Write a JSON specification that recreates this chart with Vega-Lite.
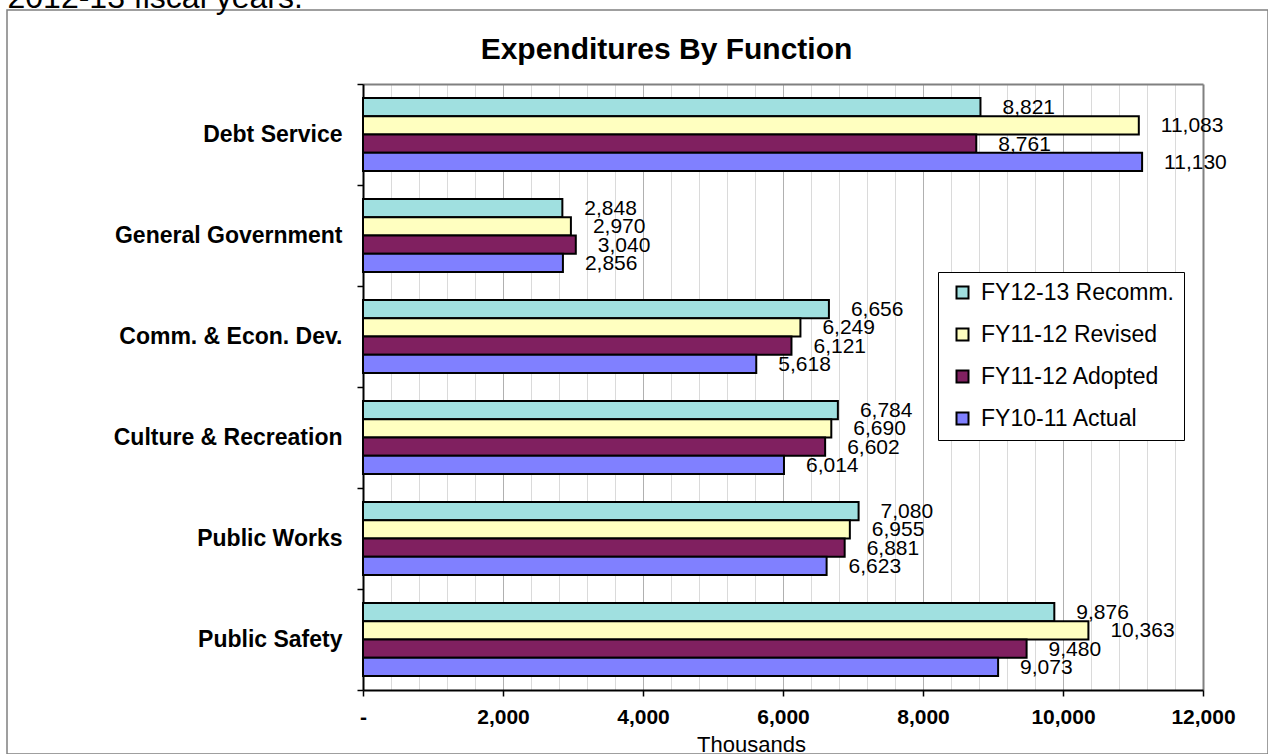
{
  "$schema": "https://vega.github.io/schema/vega-lite/v6.json",
  "autosize": "none",
  "padding": {"left": 7, "top": 10, "right": 0, "bottom": 0},
  "width": 1261,
  "height": 744,
  "background": "white",
  "config": {
    "font": "Liberation Sans",
    "view": {"stroke": "#808080", "strokeWidth": 1.5}
  },
  "data": {
    "values": [
      {"category": "Debt Service", "series": "FY12-13 Recomm.", "value": 8821},
      {"category": "Debt Service", "series": "FY11-12 Revised", "value": 11083},
      {"category": "Debt Service", "series": "FY11-12 Adopted", "value": 8761},
      {"category": "Debt Service", "series": "FY10-11 Actual", "value": 11130},
      {"category": "General Government", "series": "FY12-13 Recomm.", "value": 2848},
      {"category": "General Government", "series": "FY11-12 Revised", "value": 2970},
      {"category": "General Government", "series": "FY11-12 Adopted", "value": 3040},
      {"category": "General Government", "series": "FY10-11 Actual", "value": 2856},
      {"category": "Comm. & Econ. Dev.", "series": "FY12-13 Recomm.", "value": 6656},
      {"category": "Comm. & Econ. Dev.", "series": "FY11-12 Revised", "value": 6249},
      {"category": "Comm. & Econ. Dev.", "series": "FY11-12 Adopted", "value": 6121},
      {"category": "Comm. & Econ. Dev.", "series": "FY10-11 Actual", "value": 5618},
      {"category": "Culture & Recreation", "series": "FY12-13 Recomm.", "value": 6784},
      {"category": "Culture & Recreation", "series": "FY11-12 Revised", "value": 6690},
      {"category": "Culture & Recreation", "series": "FY11-12 Adopted", "value": 6602},
      {"category": "Culture & Recreation", "series": "FY10-11 Actual", "value": 6014},
      {"category": "Public Works", "series": "FY12-13 Recomm.", "value": 7080},
      {"category": "Public Works", "series": "FY11-12 Revised", "value": 6955},
      {"category": "Public Works", "series": "FY11-12 Adopted", "value": 6881},
      {"category": "Public Works", "series": "FY10-11 Actual", "value": 6623},
      {"category": "Public Safety", "series": "FY12-13 Recomm.", "value": 9876},
      {"category": "Public Safety", "series": "FY11-12 Revised", "value": 10363},
      {"category": "Public Safety", "series": "FY11-12 Adopted", "value": 9480},
      {"category": "Public Safety", "series": "FY10-11 Actual", "value": 9073}
    ]
  },
  "encoding": {
    "y": {
      "field": "category",
      "type": "nominal",
      "sort": ["Debt Service", "General Government", "Comm. & Econ. Dev.", "Culture & Recreation", "Public Works", "Public Safety"],
      "scale": {"range": [74, 680], "paddingInner": 0, "paddingOuter": 0},
      "axis": {
        "orient": "left",
        "offset": -356,
        "title": "2012-13 fiscal years.",
        "titleAngle": 0,
        "titleAlign": "left",
        "titleBaseline": "alphabetic",
        "titleX": -356,
        "titleY": -3,
        "titleFont": "Liberation Sans",
        "titleFontSize": 32,
        "titleFontWeight": "normal",
        "titleColor": "black",
        "tickBand": "extent",
        "ticks": true,
        "tickSize": 6,
        "tickColor": "black",
        "tickWidth": 1.5,
        "domainColor": "black",
        "domainWidth": 2,
        "grid": false,
        "labelFont": "Liberation Sans",
        "labelFontSize": 23,
        "labelFontWeight": "bold",
        "labelColor": "black",
        "labelPadding": 15,
        "labelLimit": 0
      }
    },
    "yOffset": {
      "field": "series",
      "type": "nominal",
      "sort": ["FY12-13 Recomm.", "FY11-12 Revised", "FY11-12 Adopted", "FY10-11 Actual"],
      "scale": {"paddingInner": 0, "paddingOuter": 0.767}
    }
  },
  "layer": [
    {
      "mark": {"type": "bar", "stroke": "black", "strokeWidth": 2, "opacity": 1},
      "encoding": {
        "x": {
          "field": "value",
          "type": "quantitative",
          "scale": {"domain": [0, 12000], "range": [356, 1196], "nice": false, "zero": true},
          "axis": {
            "orient": "bottom",
            "offset": -64,
            "values": [0, 2000, 4000, 6000, 8000, 10000, 12000],
            "labelExpr": "datum.value === 0 ? '-' : format(datum.value, ',')",
            "labelFont": "Liberation Sans",
            "labelFontSize": 21,
            "labelFontWeight": "bold",
            "labelColor": "black",
            "labelPadding": 10,
            "labelOverlap": false,
            "labelFlush": false,
            "labelBound": false,
            "ticks": true,
            "tickColor": "black",
            "tickSize": 6,
            "tickWidth": 1.5,
            "domainColor": "black",
            "domainWidth": 2,
            "grid": false,
            "title": "Thousands",
            "titleFont": "Liberation Sans",
            "titleFontSize": 22,
            "titleFontWeight": "normal",
            "titleColor": "black",
            "titleX": 744,
            "titleY": 61,
            "titleAlign": "center",
            "titleBaseline": "alphabetic"
          }
        },
        "color": {
          "field": "series",
          "type": "nominal",
          "scale": {
            "domain": ["FY12-13 Recomm.", "FY11-12 Revised", "FY11-12 Adopted", "FY10-11 Actual"],
            "range": ["#A0E0E0", "#FFFFC0", "#802060", "#8080FF"]
          },
          "legend": {
            "orient": "none",
            "legendX": 931,
            "legendY": 262,
            "title": null,
            "direction": "vertical",
            "fillColor": "white",
            "strokeColor": "black",
            "padding": 9,
            "symbolType": "square",
            "symbolSize": 144,
            "symbolStrokeColor": "black",
            "symbolStrokeWidth": 2,
            "symbolOpacity": 1,
            "symbolOffset": 4,
            "labelFont": "Liberation Sans",
            "labelFontSize": 23,
            "labelColor": "black",
            "labelOffset": 7,
            "labelLimit": 0,
            "rowPadding": 18
          }
        }
      }
    },
    {
      "mark": {"type": "text", "align": "left", "baseline": "middle", "dx": 22, "dy": 1, "fontSize": 21, "font": "Liberation Sans", "color": "black"},
      "encoding": {
        "x": {
          "field": "value",
          "type": "quantitative",
          "scale": {"domain": [0, 12000], "range": [356, 1196], "nice": false, "zero": true},
          "axis": {
            "orient": "top",
            "offset": -74,
            "values": [0, 400, 800, 1200, 1600, 2000, 2400, 2800, 3200, 3600, 4000, 4400, 4800, 5200, 5600, 6000, 6400, 6800, 7200, 7600, 8000, 8400, 8800, 9200, 9600, 10000, 10400, 10800, 11200, 11600, 12000],
            "grid": true,
            "gridColor": {"condition": [{"test": "datum.value === 12000", "value": "#808080"}, {"test": "datum.value % 2000 === 0", "value": "#b0b0b0"}], "value": "#dadada"},
            "gridWidth": {"condition": {"test": "datum.value === 12000", "value": 2}, "value": 1},
            "ticks": false,
            "labels": false,
            "domain": true,
            "domainColor": "#808080",
            "domainWidth": 2,
            "title": "Expenditures By Function",
            "titleFont": "Liberation Sans",
            "titleFontSize": 30,
            "titleFontWeight": "bold",
            "titleColor": "black",
            "titleX": 659,
            "titleY": -26,
            "titleAlign": "center",
            "titleBaseline": "alphabetic"
          }
        },
        "text": {"field": "value", "type": "quantitative", "format": ","}
      }
    }
  ],
  "resolve": {"axis": {"x": "independent"}}
}
